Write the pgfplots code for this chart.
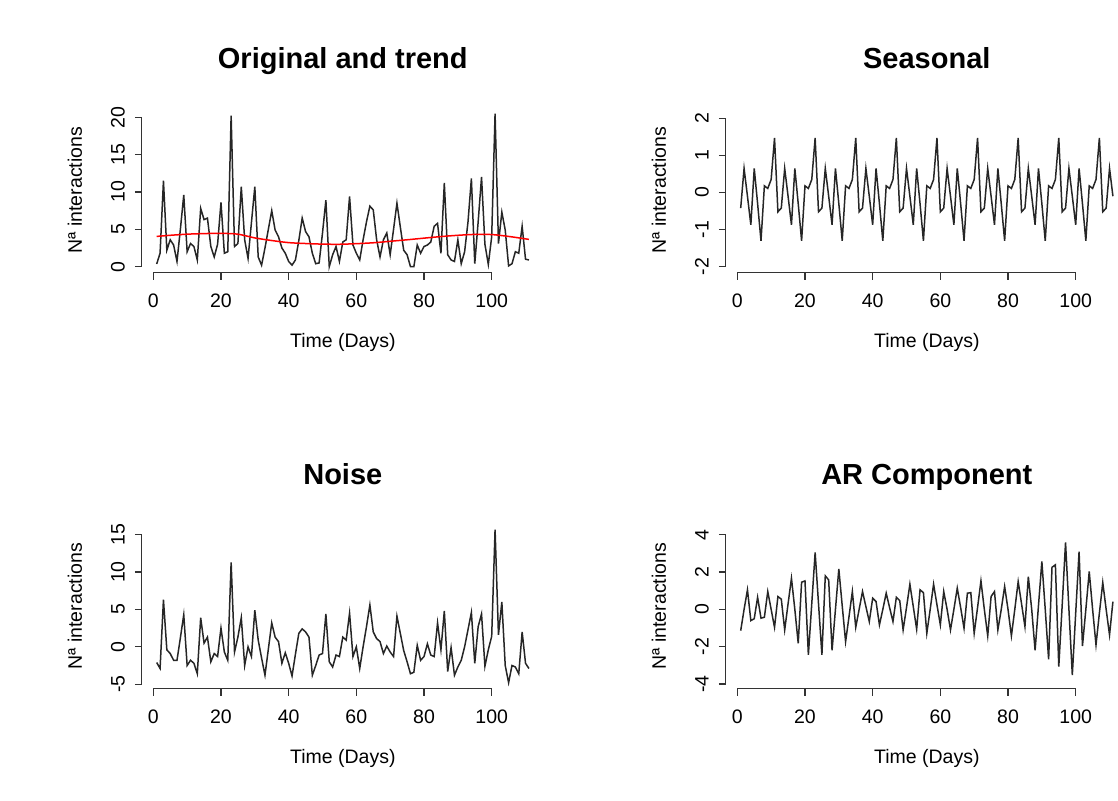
\documentclass[border=0pt]{standalone}
\usepackage{fontspec}
\setmainfont{Liberation Sans}
\usepackage{pgfplots}
\pgfplotsset{compat=1.18}

\pgfplotstableread{
x y
1 0.36
2 1.8
3 11.5
4 2.2
5 3.6
6 2.9
7 0.7
8 5.0
9 9.6
10 2.0
11 3.1
12 2.7
13 0.9
14 7.8
15 6.3
16 6.5
17 2.7
18 1.3
19 3.0
20 8.6
21 1.8
22 2.0
23 20.2
24 2.7
25 3.1
26 10.7
27 3.6
28 1.1
29 5.9
30 10.7
31 1.3
32 0.2
33 2.5
34 5.0
35 7.5
36 4.9
37 4.0
38 2.5
39 1.8
40 0.7
41 0.2
42 0.9
43 3.5
44 6.5
45 4.7
46 4.0
47 1.8
48 0.4
49 0.5
50 4.5
51 8.9
52 0.0
53 1.6
54 2.7
55 0.7
56 3.3
57 3.6
58 9.4
59 2.9
60 1.8
61 0.9
62 3.6
63 6.0
64 8.1
65 7.6
66 3.6
67 1.3
68 3.6
69 4.5
70 1.6
71 5.0
72 8.5
73 5.3
74 2.2
75 1.6
76 0.0
77 0.0
78 2.9
79 1.8
80 2.7
81 2.9
82 3.3
83 5.4
84 5.8
85 1.8
86 11.2
87 1.6
88 0.9
89 0.7
90 3.6
91 0.4
92 2.0
93 6.0
94 11.8
95 0.4
96 6.0
97 12.0
98 3.0
99 0.3
100 4.0
101 20.5
102 3.1
103 7.3
104 4.9
105 0.1
106 0.4
107 2.0
108 1.8
109 5.4
110 1.0
111 0.9
}\original

\pgfplotstableread{
x y
1 4.05
5 4.2
10 4.35
15 4.43
20 4.46
25 4.35
30 3.85
35 3.5
40 3.22
45 3.1
50 3.02
55 3.0
60 3.08
65 3.2
70 3.4
75 3.6
80 3.82
85 4.03
90 4.2
95 4.32
100 4.3
105 4.05
110 3.72
111 3.66
}\trend

\pgfplotstableread{
x y
1 -0.42
2 0.65
3 -0.1
4 -0.87
5 0.65
6 -0.3
7 -1.3
8 0.18
9 0.11
10 0.35
11 1.47
12 -0.52
13 -0.42
14 0.65
15 -0.1
16 -0.87
17 0.65
18 -0.3
19 -1.3
20 0.18
21 0.11
22 0.35
23 1.47
24 -0.52
25 -0.42
26 0.65
27 -0.1
28 -0.87
29 0.65
30 -0.3
31 -1.3
32 0.18
33 0.11
34 0.35
35 1.47
36 -0.52
37 -0.42
38 0.65
39 -0.1
40 -0.87
41 0.65
42 -0.3
43 -1.3
44 0.18
45 0.11
46 0.35
47 1.47
48 -0.52
49 -0.42
50 0.65
51 -0.1
52 -0.87
53 0.65
54 -0.3
55 -1.3
56 0.18
57 0.11
58 0.35
59 1.47
60 -0.52
61 -0.42
62 0.65
63 -0.1
64 -0.87
65 0.65
66 -0.3
67 -1.3
68 0.18
69 0.11
70 0.35
71 1.47
72 -0.52
73 -0.42
74 0.65
75 -0.1
76 -0.87
77 0.65
78 -0.3
79 -1.3
80 0.18
81 0.11
82 0.35
83 1.47
84 -0.52
85 -0.42
86 0.65
87 -0.1
88 -0.87
89 0.65
90 -0.3
91 -1.3
92 0.18
93 0.11
94 0.35
95 1.47
96 -0.52
97 -0.42
98 0.65
99 -0.1
100 -0.87
101 0.65
102 -0.3
103 -1.3
104 0.18
105 0.11
106 0.35
107 1.47
108 -0.52
109 -0.42
110 0.65
111 -0.1
}\seasonal

\pgfplotstableread{
x y
1 -2.1
2 -2.9
3 6.3
4 -0.4
5 -0.9
6 -1.8
7 -1.8
8 1.2
9 4.3
10 -2.5
11 -1.8
12 -2.2
13 -3.6
14 3.9
15 0.5
16 1.3
17 -2.0
18 -0.9
19 -1.3
20 2.5
21 -0.7
22 -1.8
23 11.3
24 -0.7
25 1.3
26 3.9
27 -2.5
28 0.0
29 -1.3
30 4.9
31 0.9
32 -1.5
33 -3.8
34 -0.3
35 3.2
36 1.3
37 0.7
38 -2.2
39 -0.8
40 -2.2
41 -3.9
42 -1.0
43 1.8
44 2.4
45 2.0
46 1.3
47 -3.8
48 -2.5
49 -1.1
50 -0.9
51 4.4
52 -2.0
53 -2.7
54 -1.1
55 -1.3
56 1.3
57 0.9
58 4.5
59 -1.3
60 0.0
61 -2.9
62 0.0
63 2.7
64 5.6
65 2.0
66 1.1
67 0.7
68 -0.9
69 0.1
70 -0.7
71 -1.3
72 4.1
73 1.8
74 -0.5
75 -2.0
76 -3.6
77 -3.4
78 0.2
79 -1.8
80 -1.3
81 0.4
82 -1.1
83 -1.3
84 3.2
85 -0.4
86 4.8
87 -3.3
88 -0.1
89 -3.8
90 -2.7
91 -1.8
92 0.0
93 2.3
94 4.6
95 -2.2
96 2.7
97 4.4
98 -2.6
99 -0.4
100 1.4
101 15.7
102 1.6
103 6.0
104 -2.5
105 -4.8
106 -2.5
107 -2.7
108 -3.6
109 2.0
110 -2.2
111 -2.9
}\noise

\pgfplotstableread{
x y
1 -1.14
2 0.0
3 1.05
4 -0.6
5 -0.5
6 0.65
7 -0.47
8 -0.42
9 0.96
10 0.0
11 -0.96
12 0.69
13 0.55
14 -1.1
15 0.3
16 1.67
17 0.0
18 -1.82
19 1.46
20 1.53
21 -2.44
22 0.3
23 3.05
24 0.3
25 -2.44
26 1.8
27 1.58
28 -2.2
29 0.0
30 2.17
31 0.2
32 -1.73
33 -0.4
34 0.96
35 -0.96
36 0.0
37 0.96
38 0.15
39 -0.65
40 0.6
41 0.42
42 -0.83
43 0.0
44 0.87
45 0.1
46 -0.65
47 0.65
48 0.47
49 -1.1
50 0.1
51 1.35
52 0.15
53 -1.06
54 1.05
55 0.9
56 -1.28
57 0.0
58 1.35
59 0.25
60 -0.83
61 0.96
62 0.0
63 -1.1
64 0.0
65 1.14
66 0.1
67 -1.01
68 0.87
69 0.9
70 -1.28
71 0.1
72 1.53
73 0.0
74 -1.42
75 0.69
76 0.96
77 -1.1
78 0.0
79 1.23
80 0.0
81 -1.42
82 0.0
83 1.49
84 0.3
85 -0.92
86 1.76
87 0.0
88 -2.2
89 0.2
90 2.57
91 0.0
92 -2.68
93 2.26
94 2.39
95 -3.07
96 0.2
97 3.59
98 0.0
99 -3.52
100 -0.2
101 3.1
102 -1.96
103 0.0
104 2.03
105 0.0
106 -1.9
107 -0.2
108 1.44
109 0.0
110 -1.37
111 0.42
}\arcomp

\pgfplotsset{rstyle/.style={
  scale only axis, width=201pt, height=82.7pt,
  xmin=-3.4, xmax=115.4,
  axis line style={draw=none},
  tick align=outside, xtick pos=bottom, ytick pos=left,
  major tick length=3.5pt,
  tick style={line width=0.65pt, color=black!80},
  xtick={0,20,40,60,80,100}, xticklabels={0,20,40,60,80,100},
  ticklabel style={font=\fontsize{9.75}{11}\selectfont},
  xticklabel style={yshift=-3.5pt},
  yticklabel style={xshift=-1.5pt, rotate=90, anchor=south},
  title style={font=\fontsize{14.5}{17}\selectfont\bfseries, at={(axis description cs:0.5,1.162)}, anchor=base},
  xlabel={Time (Days)}, ylabel={Nª interactions},
  label style={font=\fontsize{9.75}{11}\selectfont},
  xlabel style={at={(axis description cs:0.5,-0.449)}, anchor=base},
  ylabel style={at={(axis description cs:-0.149,0.5)}, anchor=base},
  clip=false,
}}

\begin{document}
\begin{tikzpicture}
\path[use as bounding box] (0,0) rectangle (559pt,400pt);
\clip (0,0) rectangle (559pt,400pt);

\begin{axis}[rstyle, at={(70.9pt,263.6pt)}, anchor=south west,
  ymin=-0.82, ymax=21.32, ytick={0,5,10,15,20}, yticklabels={0,5,10,15,20},
  title={Original and trend}]
\addplot[line width=0.75pt, black!85] table[x=x,y=y] {\original};
\addplot[line width=0.75pt, red, smooth] table[x=x,y=y] {\trend};
\draw[line width=0.65pt, black!80] (axis cs:0,-0.82) -- (axis cs:100,-0.82);
\draw[line width=0.65pt, black!80] (axis cs:-3.4,0) -- (axis cs:-3.4,20);
\end{axis}

\begin{axis}[rstyle, at={(362.9pt,263.6pt)}, anchor=south west,
  ymin=-2.164, ymax=2.294, ytick={-2,-1,0,1,2}, yticklabels={-2,-1,0,1,2},
  title={Seasonal}]
\addplot[line width=0.75pt, black!85] table[x=x,y=y] {\seasonal};
\draw[line width=0.65pt, black!80] (axis cs:0,-2.164) -- (axis cs:100,-2.164);
\draw[line width=0.65pt, black!80] (axis cs:-3.4,-2) -- (axis cs:-3.4,2);
\end{axis}

\begin{axis}[rstyle, at={(70.9pt,55.6pt)}, anchor=south west,
  ymin=-5.62, ymax=16.52, ytick={-5,0,5,10,15}, yticklabels={-5,0,5,10,15},
  title={Noise}]
\addplot[line width=0.75pt, black!85] table[x=x,y=y] {\noise};
\draw[line width=0.65pt, black!80] (axis cs:0,-5.62) -- (axis cs:100,-5.62);
\draw[line width=0.65pt, black!80] (axis cs:-3.4,-5) -- (axis cs:-3.4,15);
\end{axis}

\begin{axis}[rstyle, at={(362.9pt,55.6pt)}, anchor=south west,
  ymin=-4.258, ymax=4.612, ytick={-4,-2,0,2,4}, yticklabels={-4,-2,0,2,4},
  title={AR Component}]
\addplot[line width=0.75pt, black!85] table[x=x,y=y] {\arcomp};
\draw[line width=0.65pt, black!80] (axis cs:0,-4.258) -- (axis cs:100,-4.258);
\draw[line width=0.65pt, black!80] (axis cs:-3.4,-4) -- (axis cs:-3.4,4);
\end{axis}
\end{tikzpicture}
\end{document}
